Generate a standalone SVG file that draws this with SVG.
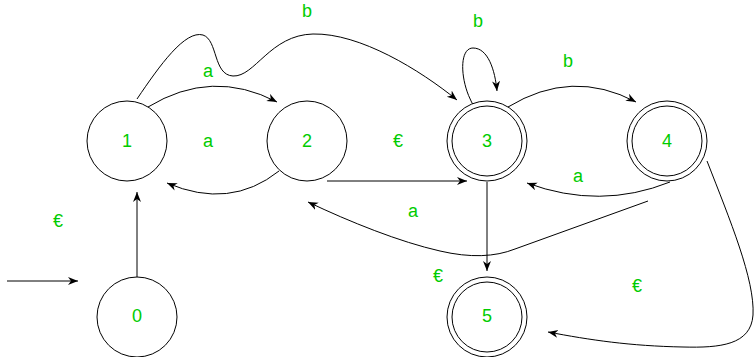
<svg xmlns="http://www.w3.org/2000/svg" width="754" height="357" viewBox="0 0 754 357">
<style>
.st{fill:#fff;stroke:#000;stroke-width:1}
.lb{font-family:"Liberation Sans",Arial,sans-serif;font-size:18px;fill:#00cc00;text-anchor:middle}
.ed{fill:none;stroke:#000;stroke-width:1;marker-end:url(#ar)}
</style>
<defs>
<marker id="ar" markerUnits="userSpaceOnUse" markerWidth="12" markerHeight="10" refX="10" refY="4" orient="auto" viewBox="0 0 12 10">
<path d="M0,0 L10,4 L0,8 L3,4 z" fill="#000"/>
</marker>
</defs>
<rect width="754" height="357" fill="#fff"/>
<g id="connectors">
<path class="ed" d="M7,281 L78,281"/>
<path class="ed" d="M137,277 L137,192"/>
<path class="ed" d="M148,107 Q212,68 277,102"/>
<path class="ed" d="M279,171 Q230,210 167,183"/>
<path class="ed" d="M327,181 L467,181"/>
<path class="ed" d="M137,99 C160,65 185,30 203,35 C218,40 213,75 233,76 C255,77 270,35 313,34 C360,33 420,70 457,100"/>
<path class="ed" d="M475,108 C460,85 458,48 473,48 C488,48 495,70 497,91"/>
<path class="ed" d="M508,107 Q572,68 636,102"/>
<path class="ed" d="M670,182 Q600,210 527,183"/>
<path class="ed" d="M487,182 L487,271"/>
<path class="ed" d="M648,201 L515,249 C495,257 470,258 440,251 C400,242 350,222 308,202"/>
<path class="ed" d="M707,161 C730,220 755,280 753,315 C751,345 720,348 683,347 C630,346 590,340 548,332"/>
<text class="lb" x="208" y="77">a</text>
<text class="lb" x="208" y="147">a</text>
<text class="lb" x="398" y="147">€</text>
<text class="lb" x="307" y="17">b</text>
<text class="lb" x="478" y="27">b</text>
<text class="lb" x="568" y="67">b</text>
<text class="lb" x="578" y="182">a</text>
<text class="lb" x="413" y="217">a</text>
<text class="lb" x="58" y="227">€</text>
<text class="lb" x="438" y="282">€</text>
<text class="lb" x="637" y="292">€</text>
</g>
<g id="node0"><circle class="st" cx="137" cy="317" r="40"/><text class="lb" x="137" y="322">0</text></g>
<g id="node1"><circle class="st" cx="127" cy="141" r="40"/><text class="lb" x="127" y="147">1</text></g>
<g id="node2"><circle class="st" cx="307" cy="141" r="40"/><text class="lb" x="307" y="147">2</text></g>
<g id="node3"><circle class="st" cx="487" cy="141" r="40"/><circle class="st" cx="487" cy="141" r="35"/><text class="lb" x="487" y="147">3</text></g>
<g id="node4"><circle class="st" cx="667" cy="141" r="40"/><circle class="st" cx="667" cy="141" r="35"/><text class="lb" x="667" y="147">4</text></g>
<g id="node5"><circle class="st" cx="487" cy="317" r="40"/><circle class="st" cx="487" cy="317" r="35"/><text class="lb" x="487" y="322">5</text></g>
</svg>
